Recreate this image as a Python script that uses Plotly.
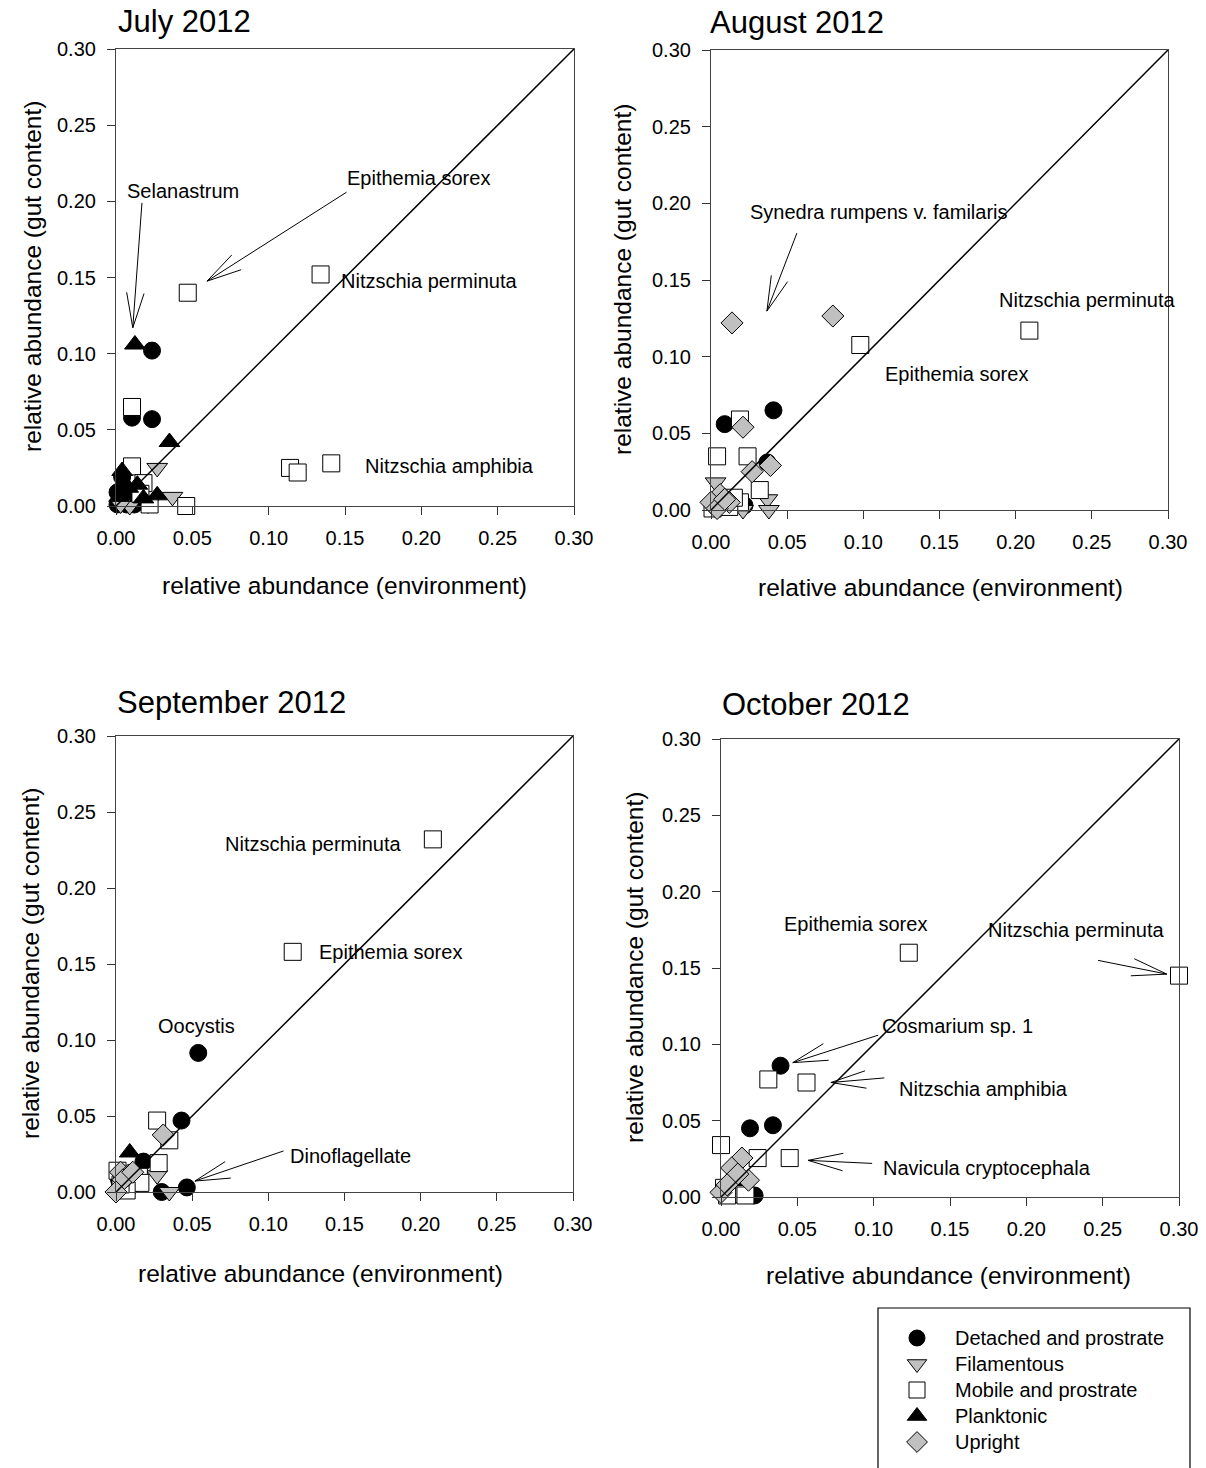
import math
import plotly.graph_objects as go

W, H = 1206, 1468
FONT = "Arial, Liberation Sans, sans-serif"
GRAY = "#c0c0c0"

# ---- data: relative abundance (environment, gut content) per growth form ----
panel_titles = ["July 2012", "August 2012", "September 2012", "October 2012"]
tick_vals = [0.0, 0.05, 0.10, 0.15, 0.20, 0.25, 0.30]
tick_text = ["0.00", "0.05", "0.10", "0.15", "0.20", "0.25", "0.30"]

# July 2012
jul_detached_x = [0.0236, 0.0105, 0.0236, 0.004, 0.001, 0.003, 0.007, 0.012, 0.001, 0.008]
jul_detached_y = [0.102, 0.058, 0.057, 0.019, 0.009, 0.004, 0.001, 0.001, 0.001, 0.008]
jul_filament_x = [0.027, 0.037, 0.021, 0.009, 0.003]
jul_filament_y = [0.025, 0.006, 0.001, 0.000, 0.001]
jul_mobile_x = [0.047, 0.134, 0.114, 0.119, 0.141, 0.0105, 0.0105, 0.018, 0.046, 0.022, 0.016]
jul_mobile_y = [0.140, 0.152, 0.025, 0.022, 0.028, 0.065, 0.026, 0.015, 0.000, 0.001, 0.008]
jul_plankton_x = [0.0124, 0.035, 0.027, 0.014, 0.004, 0.008, 0.002, 0.018]
jul_plankton_y = [0.106, 0.042, 0.007, 0.014, 0.023, 0.012, 0.006, 0.005]
jul_upright_x = []
jul_upright_y = []

# August 2012
aug_detached_x = [0.009, 0.041, 0.037, 0.022, 0.003]
aug_detached_y = [0.056, 0.065, 0.031, 0.003, 0.002]
aug_filament_x = [0.003, 0.037, 0.038, 0.021, 0.008]
aug_filament_y = [0.018, 0.007, 0.000, 0.000, 0.004]
aug_mobile_x = [0.098, 0.209, 0.019, 0.004, 0.024, 0.032, 0.019, 0.001, 0.012, 0.015]
aug_mobile_y = [0.1076, 0.117, 0.059, 0.035, 0.035, 0.013, 0.005, 0.001, 0.002, 0.008]
aug_plankton_x = []
aug_plankton_y = []
aug_upright_x = [0.0138, 0.080, 0.021, 0.039, 0.027, 0.006, 0.000, 0.012, 0.004, 0.009]
aug_upright_y = [0.122, 0.1265, 0.054, 0.029, 0.025, 0.010, 0.005, 0.005, 0.001, 0.007]

# September 2012
sep_detached_x = [0.054, 0.043, 0.018, 0.030, 0.0465, 0.002, 0.010]
sep_detached_y = [0.0915, 0.047, 0.020, 0.000, 0.003, 0.008, 0.004]
sep_filament_x = [0.027, 0.035, 0.004]
sep_filament_y = [0.011, 0.000, 0.002]
sep_mobile_x = [0.208, 0.116, 0.027, 0.035, 0.028, 0.001, 0.015, 0.016, 0.007, 0.003]
sep_mobile_y = [0.232, 0.158, 0.047, 0.034, 0.019, 0.014, 0.010, 0.006, 0.001, 0.005]
sep_plankton_x = [0.009, 0.005]
sep_plankton_y = [0.026, 0.012]
sep_upright_x = [0.031, 0.003, 0.008, 0.0046, 0.000, 0.011]
sep_upright_y = [0.0375, 0.013, 0.011, 0.008, 0.000, 0.013]

# October 2012
oct_detached_x = [0.039, 0.019, 0.034, 0.022, 0.008, 0.003, 0.012]
oct_detached_y = [0.086, 0.045, 0.047, 0.001, 0.006, 0.003, 0.010]
oct_filament_x = []
oct_filament_y = []
oct_mobile_x = [0.300, 0.123, 0.031, 0.056, 0.000, 0.024, 0.045, 0.002, 0.012, 0.016, 0.004]
oct_mobile_y = [0.145, 0.160, 0.077, 0.075, 0.034, 0.0255, 0.0255, 0.006, 0.002, 0.001, 0.001]
oct_plankton_x = [0.006]
oct_plankton_y = [0.012]
oct_upright_x = [0.0137, 0.007, 0.018, 0.000, 0.011, 0.004]
oct_upright_y = [0.0255, 0.019, 0.011, 0.003, 0.015, 0.008]

group_names = ["Detached and prostrate", "Filamentous", "Mobile and prostrate",
               "Planktonic", "Upright"]

panels = [
    [(jul_detached_x, jul_detached_y), (jul_filament_x, jul_filament_y),
     (jul_mobile_x, jul_mobile_y), (jul_plankton_x, jul_plankton_y),
     (jul_upright_x, jul_upright_y)],
    [(aug_detached_x, aug_detached_y), (aug_filament_x, aug_filament_y),
     (aug_mobile_x, aug_mobile_y), (aug_plankton_x, aug_plankton_y),
     (aug_upright_x, aug_upright_y)],
    [(sep_detached_x, sep_detached_y), (sep_filament_x, sep_filament_y),
     (sep_mobile_x, sep_mobile_y), (sep_plankton_x, sep_plankton_y),
     (sep_upright_x, sep_upright_y)],
    [(oct_detached_x, oct_detached_y), (oct_filament_x, oct_filament_y),
     (oct_mobile_x, oct_mobile_y), (oct_plankton_x, oct_plankton_y),
     (oct_upright_x, oct_upright_y)],
]

# taxon labels: (panel, text, x, y, xanchor)
labels = [
    (0, "Selanastrum", 0.044, 0.207, "center"),
    (0, "Epithemia sorex", 0.150, 0.215, "left"),
    (0, "Nitzschia perminuta", 0.146, 0.148, "left"),
    (0, "Nitzschia amphibia", 0.162, 0.026, "left"),
    (1, "Synedra rumpens v. familaris", 0.0243, 0.1943, "left"),
    (1, "Nitzschia perminuta", 0.188, 0.137, "left"),
    (1, "Epithemia sorex", 0.113, 0.089, "left"),
    (2, "Nitzschia perminuta", 0.070, 0.229, "left"),
    (2, "Epithemia sorex", 0.132, 0.158, "left"),
    (2, "Oocystis", 0.053, 0.109, "center"),
    (2, "Dinoflagellate", 0.113, 0.024, "left"),
    (3, "Epithemia sorex", 0.088, 0.179, "center"),
    (3, "Nitzschia perminuta", 0.233, 0.175, "center"),
    (3, "Cosmarium sp. 1", 0.104, 0.112, "left"),
    (3, "Nitzschia amphibia", 0.115, 0.071, "left"),
    (3, "Navicula cryptocephala", 0.105, 0.019, "left"),
]

# pointer arrows: (panel, tail_x, tail_y, tip_x, tip_y)
arrows = [
    (0, 0.017, 0.199, 0.011, 0.117),
    (0, 0.151, 0.206, 0.0596, 0.1476),
    (1, 0.0564, 0.1806, 0.0367, 0.1297),
    (2, 0.110, 0.027, 0.0518, 0.0072),
    (3, 0.247, 0.155, 0.292, 0.146),
    (3, 0.103, 0.106, 0.047, 0.088),
    (3, 0.107, 0.078, 0.072, 0.075),
    (3, 0.099, 0.022, 0.057, 0.024),
]

# ---- layout geometry (pixels) ----
boxes = [(116, 574, 49, 506), (711, 1168, 50, 510),
         (116, 573, 736, 1192), (721, 1179, 739, 1197)]
title_pos = [(116, 22), (708, 23), (115, 702), (720, 704)]
xtitle_pos = [(345, 586), (940, 587), (320, 1273), (948, 1275)]
ytitle_pos = [(32, 277), (622, 280), (30, 964), (634, 968)]
legend_box = (878, 1190, 1308)
legend_rows = [1338, 1364, 1390, 1416, 1442]
legend_marker_x, legend_text_x = 917, 953

styles = [
    dict(symbol="circle", size=17, color="black"),
    dict(symbol="triangle-down", size=18, color=GRAY),
    dict(symbol="square", size=17, color="white"),
    dict(symbol="triangle-up", size=18, color="black"),
    dict(symbol="diamond", size=17, color=GRAY),
]

fig = go.Figure()
layout = dict(width=W, height=H, margin=dict(l=0, r=0, t=0, b=0, pad=0, autoexpand=False),
              paper_bgcolor="white", plot_bgcolor="rgba(0,0,0,0)", showlegend=False,
              font=dict(family=FONT, color="black"), shapes=[], annotations=[])


def ax_names(i):
    s = "" if i == 0 else str(i + 1)
    return "x" + s, "y" + s, "xaxis" + s, "yaxis" + s


domains = []
for i, (x0, x1, y0, y1) in enumerate(boxes):
    xd = [x0 / W, x1 / W]
    yd = [1 - y1 / H, 1 - y0 / H]
    domains.append((xd, yd))
    xr, yr, xk, yk = ax_names(i)
    common = dict(range=[0, 0.3], tickvals=tick_vals, ticktext=tick_text,
                  ticks="outside", ticklen=8, tickwidth=1.2, tickcolor="#333",
                  showline=True, linecolor="#444", linewidth=1.2, mirror=True,
                  showgrid=False, zeroline=False, fixedrange=True, automargin=False,
                  tickfont=dict(size=20, family=FONT, color="black"))
    layout[xk] = dict(domain=xd, anchor=yr, ticklabelstandoff=6, **common)
    layout[yk] = dict(domain=yd, anchor=xr, ticklabelstandoff=7, **common)

    # 1:1 reference line
    layout["shapes"].append(dict(type="line", xref=xr, yref=yr, x0=0, y0=0, x1=0.3, y1=0.3,
                                 line=dict(color="black", width=1.5), layer="above"))

    tx, ty = title_pos[i]
    layout["annotations"].append(dict(text=panel_titles[i], xref="paper", yref="paper",
                                      x=tx / W, y=1 - ty / H, xanchor="left", yanchor="middle",
                                      showarrow=False, font=dict(size=31)))
    ax_, ay_ = xtitle_pos[i]
    layout["annotations"].append(dict(text="relative abundance (environment)", xref="paper",
                                      yref="paper", x=ax_ / W, y=1 - ay_ / H,
                                      xanchor="center", yanchor="middle", showarrow=False,
                                      font=dict(size=24.5)))
    bx_, by_ = ytitle_pos[i]
    layout["annotations"].append(dict(text="relative abundance (gut content)", xref="paper",
                                      yref="paper", x=bx_ / W, y=1 - by_ / H, textangle=-90,
                                      xanchor="center", yanchor="middle", showarrow=False,
                                      font=dict(size=24.5)))

for i, groups in enumerate(panels):
    xr, yr, _, _ = ax_names(i)
    for g, (xs, ys) in enumerate(groups):
        if not xs:
            continue
        st = styles[g]
        fig.add_trace(go.Scatter(
            x=xs, y=ys, mode="markers", xaxis=xr, yaxis=yr,
            name=group_names[g], cliponaxis=False, hoverinfo="x+y+name",
            marker=dict(symbol=st["symbol"], size=st["size"], color=st["color"],
                        line=dict(color="black", width=1))))

for (p, text, x, y, anchor) in labels:
    xr, yr, _, _ = ax_names(p)
    layout["annotations"].append(dict(text=text, xref=xr, yref=yr, x=x, y=y,
                                      xanchor=anchor, yanchor="middle", showarrow=False,
                                      font=dict(size=20)))


def open_arrow(p, tx, ty, hx, hy, wing=36, half_angle=14):
    xr, yr, _, _ = ax_names(p)
    xd, yd = domains[p]
    sx = (xd[1] - xd[0]) * W / 0.3
    sy = (yd[1] - yd[0]) * H / 0.3
    dx, dy = (tx - hx) * sx, (ty - hy) * sy
    L = math.hypot(dx, dy)
    ux, uy = dx / L, dy / L
    out = [dict(type="line", xref=xr, yref=yr, x0=hx, y0=hy, x1=tx, y1=ty,
                line=dict(color="black", width=1))]
    for sgn in (1, -1):
        a = math.radians(sgn * half_angle)
        wx = ux * math.cos(a) - uy * math.sin(a)
        wy = ux * math.sin(a) + uy * math.cos(a)
        out.append(dict(type="line", xref=xr, yref=yr, x0=hx, y0=hy,
                        x1=hx + wx * wing / sx, y1=hy + wy * wing / sy,
                        line=dict(color="black", width=1)))
    return out


for (p, tx, ty, hx, hy) in arrows:
    layout["shapes"].extend(open_arrow(p, tx, ty, hx, hy))

# legend: framed key on a pixel-scaled axis pair covering the key area
lx0, lx1, ly0 = legend_box
layout["xaxis5"] = dict(domain=[lx0 / W, lx1 / W], range=[lx0, lx1], visible=False,
                        fixedrange=True, anchor="y5")
layout["yaxis5"] = dict(domain=[0, 1 - ly0 / H], range=[H, ly0], visible=False,
                        fixedrange=True, anchor="x5")
layout["shapes"].append(dict(type="rect", xref="paper", yref="paper",
                             x0=lx0 / W, x1=lx1 / W, y0=-0.01, y1=1 - ly0 / H,
                             line=dict(color="black", width=1.2), fillcolor="rgba(0,0,0,0)"))
for g, name in enumerate(group_names):
    st = styles[g]
    fig.add_trace(go.Scatter(
        x=[legend_marker_x], y=[legend_rows[g]], mode="markers", xaxis="x5", yaxis="y5",
        hoverinfo="skip", cliponaxis=False,
        marker=dict(symbol=st["symbol"], size=st["size"] - 1, color=st["color"],
                    line=dict(color="black", width=1))))
    layout["annotations"].append(dict(text=name, xref="x5", yref="y5",
                                      x=legend_text_x, y=legend_rows[g],
                                      xanchor="left", yanchor="middle", showarrow=False,
                                      font=dict(size=20)))

fig.update_layout(**layout)
fig.write_html("out.html")
